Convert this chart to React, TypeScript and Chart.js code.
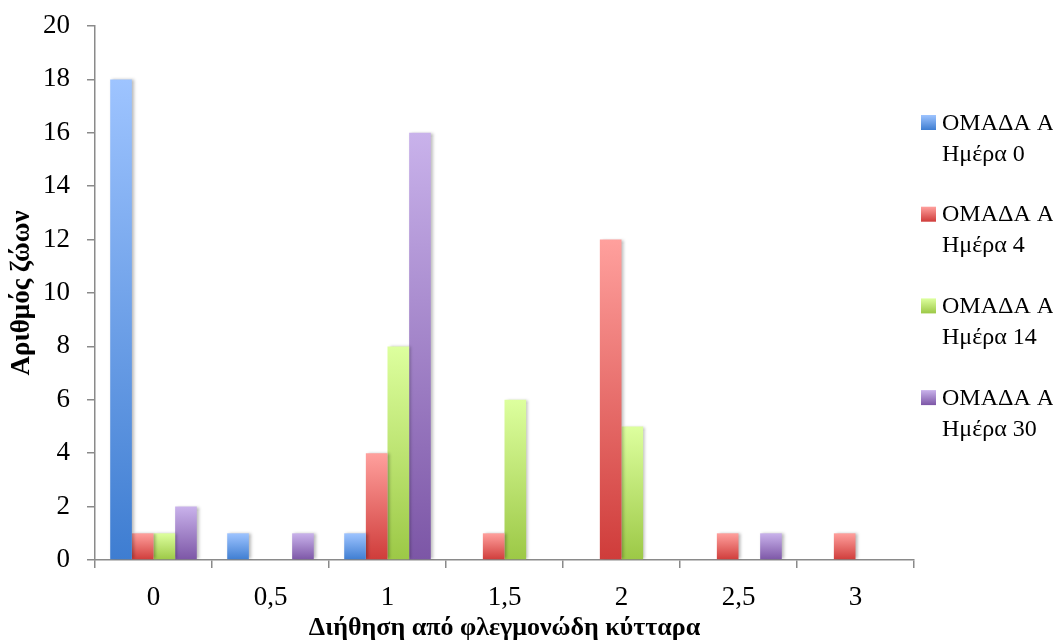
import React, { useEffect, useRef } from "react";
import { Chart, registerables } from "chart.js";

Chart.register(...registerables);

const categories = ["0", "0,5", "1", "1,5", "2", "2,5", "3"];
const day0 = [18, 1, 1, 0, 0, 0, 0];
const day4 = [1, 0, 4, 1, 12, 1, 1];
const day14 = [1, 0, 8, 6, 5, 0, 0];
const day30 = [2, 1, 16, 0, 0, 1, 0];
const seriesLabels = [
  ["ΟΜΑΔΑ Α", "Ημέρα 0"],
  ["ΟΜΑΔΑ Α", "Ημέρα 4"],
  ["ΟΜΑΔΑ Α", "Ημέρα 14"],
  ["ΟΜΑΔΑ Α", "Ημέρα 30"],
];
const colorsTop = ["#9EC4FF", "#FFA09D", "#DDFF9E", "#C9B2EB"];
const colorsBottom = ["#3E7DD1", "#CF3C3A", "#9CC846", "#7C56A6"];
const yTicks = { min: 0, max: 20, step: 2 };

const gridColor = "#8A8A8A";
const serif = "'Liberation Serif', serif";
const tickFont = { family: serif, size: 27 };
const legendFontSize = 24;
const xTitleFont = { family: serif, size: 26, weight: "bold" as const, lineHeight: 1.05 };
const yTitleFont = { family: serif, size: 27, weight: "bold" as const };

function gradientFor(i: number) {
  return (c: any) => {
    const chart = c.chart;
    const ys = chart.scales?.y;
    if (c.type !== "data" || !ys || !c.parsed) return colorsTop[i];
    const top = ys.getPixelForValue(c.parsed.y);
    const bottom = ys.getPixelForValue(0);
    if (!isFinite(top) || !isFinite(bottom) || top === bottom) return colorsTop[i];
    const g = chart.ctx.createLinearGradient(0, top, 0, bottom);
    g.addColorStop(0, colorsTop[i]);
    g.addColorStop(1, colorsBottom[i]);
    return g;
  };
}

const shadowPlugin = {
  id: "barShadow",
  beforeDatasetsDraw(chart: any) {
    const ctx = chart.ctx;
    ctx.save();
    ctx.shadowColor = "rgba(0,0,0,0.28)";
    ctx.shadowOffsetX = 2;
    ctx.shadowOffsetY = 0;
    ctx.shadowBlur = 3;
  },
  afterDatasetsDraw(chart: any) {
    chart.ctx.restore();
  },
};

const legendPlugin = {
  id: "twoLineLegend",
  afterDraw(chart: any) {
    const ctx = chart.ctx;
    const area = chart.chartArea;
    const x = area.right + 7;
    const startY = area.top + 89;
    const spacing = 91.7;
    const box = 15;
    ctx.save();
    ctx.font = `${legendFontSize}px ${serif}`;
    ctx.textBaseline = "middle";
    ctx.textAlign = "left";
    seriesLabels.forEach((lines, i) => {
      const y = startY + i * spacing;
      const g = ctx.createLinearGradient(0, y, 0, y + box);
      g.addColorStop(0, colorsTop[i]);
      g.addColorStop(1, colorsBottom[i]);
      ctx.fillStyle = g;
      ctx.fillRect(x, y, box, box);
      ctx.fillStyle = "#000";
      lines.forEach((t, j) => {
        ctx.fillText(t, x + 21, y + box / 2 + 1 + j * 31);
      });
    });
    ctx.restore();
  },
};

export default function App() {
  const ref = useRef<HTMLCanvasElement | null>(null);
  useEffect(() => {
    if (!ref.current) return;
    const series = [day0, day4, day14, day30];
    const chart = new Chart(ref.current, {
      type: "bar",
      data: {
        labels: categories,
        datasets: series.map((d, i) => ({
          label: seriesLabels[i].join(" "),
          data: d,
          backgroundColor: gradientFor(i),
          borderWidth: 0,
          categoryPercentage: 0.74,
          barPercentage: 1,
        })),
      },
      options: {
        animation: false,
        responsive: false,
        maintainAspectRatio: false,
        layout: { padding: { top: 26, right: 139, left: 0, bottom: 0 } },
        plugins: {
          legend: { display: false },
          tooltip: { enabled: false },
        },
        scales: {
          x: {
            grid: {
              drawOnChartArea: false,
              drawTicks: true,
              tickLength: 8,
              color: gridColor,
              lineWidth: 1.5,
              offset: true,
            },
            border: { display: true, color: gridColor, width: 1.5 },
            ticks: { color: "#000", font: tickFont, padding: 14, maxRotation: 0 },
            title: {
              display: true,
              text: "Διήθηση από φλεγμονώδη κύτταρα",
              color: "#000",
              font: xTitleFont,
              padding: { top: 0, bottom: 0 },
            },
            afterFit: (s: any) => {
              s.height = 82;
              s.paddingLeft = 0;
              s.paddingRight = 0;
            },
          },
          y: {
            min: yTicks.min,
            max: yTicks.max,
            grid: {
              drawOnChartArea: false,
              drawTicks: true,
              tickLength: 8,
              color: gridColor,
              lineWidth: 1.5,
            },
            border: { display: true, color: gridColor, width: 1.5 },
            ticks: { stepSize: yTicks.step, color: "#000", font: tickFont, padding: 17 },
            title: {
              display: true,
              text: "Αριθμός ζώων",
              color: "#000",
              font: yTitleFont,
              padding: { top: 6, bottom: 0 },
            },
            afterFit: (s: any) => {
              s.width = 95;
              s.paddingTop = 0;
              s.paddingBottom = 0;
            },
          },
        },
      },
      plugins: [shadowPlugin, legendPlugin],
    });
    return () => chart.destroy();
  }, []);
  return (
    <div style={{ position: "fixed", left: 0, top: 0, width: 1053, height: 642, background: "#fff" }}>
      <canvas ref={ref} width={1053} height={642} style={{ width: 1053, height: 642 }} />
    </div>
  );
}
